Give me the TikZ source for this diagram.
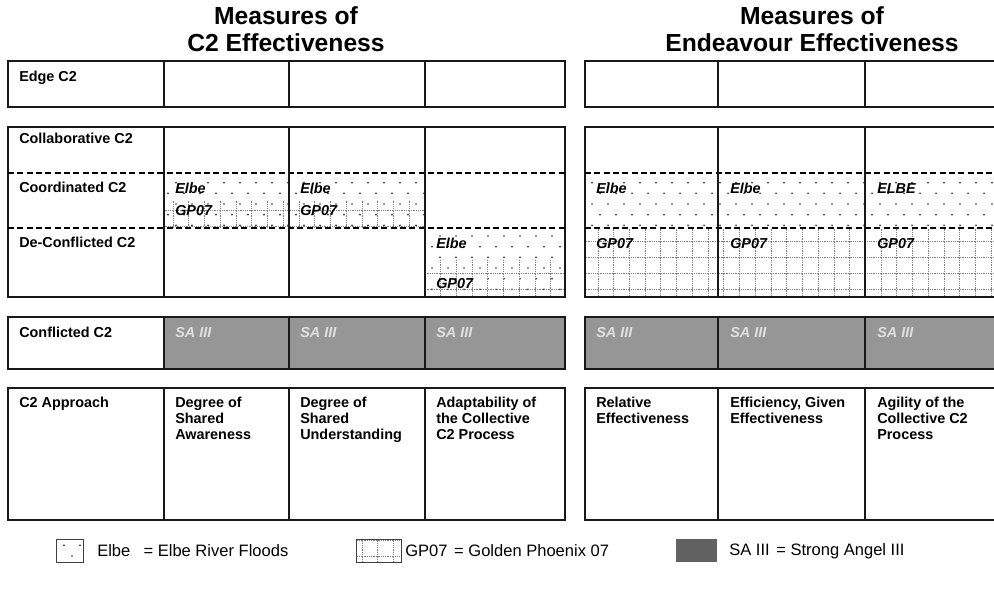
\documentclass[tikz,border=0pt]{standalone}
\usepackage{fontspec}
\setmainfont{Liberation Sans}
\usetikzlibrary{patterns}

% sparse staggered dots (Elbe)
\pgfdeclarepatternformonly{elbedots}{\pgfqpoint{-1pt}{-1pt}}{\pgfqpoint{13pt}{17pt}}{\pgfqpoint{12pt}{16pt}}{
	\pgfpathcircle{\pgfqpoint{0pt}{0pt}}{0.7pt}
	\pgfpathcircle{\pgfqpoint{6pt}{8pt}}{0.7pt}
	\pgfusepath{fill}
}
% dotted grid (GP07)
\pgfdeclarepatternformonly{gpgrid}{\pgfqpoint{-0.5pt}{-0.5pt}}{\pgfqpoint{12.3pt}{12.3pt}}{\pgfqpoint{11.8pt}{11.8pt}}{
	\pgfsetlinewidth{0.55pt}
	\pgfsetdash{{0.55pt}{0.8pt}}{0pt}
	\pgfpathmoveto{\pgfqpoint{0pt}{0pt}}\pgfpathlineto{\pgfqpoint{11.8pt}{0pt}}
	\pgfpathmoveto{\pgfqpoint{0pt}{0pt}}\pgfpathlineto{\pgfqpoint{0pt}{11.8pt}}
	\pgfusepath{stroke}
}

\tikzset{
	frame/.style={draw=black!90, line width=1.1pt},
	divider/.style={draw=black, line width=1.1pt, dash pattern=on 4.5pt off 2.5pt},
	elbefill/.style={pattern=elbedots, pattern color=black!80},
	gpfill/.style={pattern=gpgrid, pattern color=black!50},
	safill/.style={fill=black!41},
	rowlabel/.style={anchor=north west, inner sep=0pt, align=left,
		font=\bfseries\fontsize{10.8}{12}\selectfont},
	tag/.style={anchor=north west, inner sep=0pt,
		font=\bfseries\itshape\fontsize{10.8}{12}\selectfont},
	satag/.style={tag, text=black!12},
	heading/.style={anchor=north, inner sep=0pt, align=center,
		font=\bfseries\fontsize{18.5}{20.5}\selectfont},
	keybox/.style={draw=black!75, line width=0.5pt},
	keytext/.style={anchor=west, inner sep=0pt, font=\fontsize{12.4}{14}\selectfont}
}

\begin{document}
\begin{tikzpicture}[x=0.75pt,y=-0.75pt]
	\clip (0,0) rectangle (994,588);

	\node [heading] (lefttitle) at (286,6) {Measures of\\C2 Effectiveness};
	\node [heading] (righttitle) at (812,6) {Measures of\\Endeavour Effectiveness};

	% fills
	\path [elbefill] (164,173) rectangle (425,228);
	\path [gpfill] (164,200) rectangle (425,228);
	\path [elbefill] (425,228) rectangle (565,297);
	\path [gpfill] (425,260) rectangle (565,297);
	\path [elbefill] (585,173) rectangle (1010,228);
	\path [gpfill] (585,228) rectangle (1010,297);
	\path [safill] (164,317) rectangle (565,369);
	\path [safill] (585,317) rectangle (1010,369);

	% left table
	\draw [frame] (8,61) rectangle (565,107);
	\draw [frame] (8,127) rectangle (565,297);
	\draw [divider] (8,173) -- (565,173);
	\draw [divider] (8,228) -- (565,228);
	\draw [frame] (8,317) rectangle (565,369);
	\draw [frame] (8,388) rectangle (565,520);
	\foreach \x in {164,289,425}
	{
		\draw [frame] (\x,61) -- (\x,107);
		\draw [frame] (\x,127) -- (\x,297);
		\draw [frame] (\x,317) -- (\x,369);
		\draw [frame] (\x,388) -- (\x,520);
	}

	% right table
	\draw [frame] (585,61) rectangle (1010,107);
	\draw [frame] (585,127) rectangle (1010,297);
	\draw [divider] (585,173) -- (1010,173);
	\draw [divider] (585,228) -- (1010,228);
	\draw [frame] (585,317) rectangle (1010,369);
	\draw [frame] (585,388) rectangle (1010,520);
	\foreach \x in {718,865}
	{
		\draw [frame] (\x,61) -- (\x,107);
		\draw [frame] (\x,127) -- (\x,297);
		\draw [frame] (\x,317) -- (\x,369);
		\draw [frame] (\x,388) -- (\x,520);
	}

	% row labels
	\node [rowlabel] (edge) at (19,71) {Edge C2};
	\node [rowlabel] (collab) at (19,133) {Collaborative C2};
	\node [rowlabel] (coord) at (19,182) {Coordinated C2};
	\node [rowlabel] (deconf) at (19,237) {De-Conflicted C2};
	\node [rowlabel] (conf) at (19,327) {Conflicted C2};
	\node [rowlabel] (approach) at (19,397) {C2 Approach};

	% exercise tags
	\node [tag] (elbeA) at (175,183) {Elbe};
	\node [tag] (gpA) at (175,205) {GP07};
	\node [tag] (elbeB) at (300,183) {Elbe};
	\node [tag] (gpB) at (300,205) {GP07};
	\node [tag] (elbeC) at (436,238) {Elbe};
	\node [tag] (gpC) at (436,278) {GP07};
	\node [tag] (elbeD) at (596,183) {Elbe};
	\node [tag] (elbeE) at (730,183) {Elbe};
	\node [tag] (elbeF) at (877,183) {ELBE};
	\node [tag] (gpD) at (596,238) {GP07};
	\node [tag] (gpE) at (730,238) {GP07};
	\node [tag] (gpF) at (877,238) {GP07};
	\node [satag] (saA) at (175,327) {SA III};
	\node [satag] (saB) at (300,327) {SA III};
	\node [satag] (saC) at (436,327) {SA III};
	\node [satag] (saD) at (596,327) {SA III};
	\node [satag] (saE) at (730,327) {SA III};
	\node [satag] (saF) at (877,327) {SA III};

	% measures
	\node [rowlabel] (awareness) at (175,397) {Degree of\\Shared\\Awareness};
	\node [rowlabel] (understanding) at (300,397) {Degree of\\Shared\\Understanding};
	\node [rowlabel] (adaptability) at (436,397) {Adaptability of\\the Collective\\C2 Process};
	\node [rowlabel] (relative) at (596,397) {Relative\\Effectiveness};
	\node [rowlabel] (efficiency) at (730,397) {Efficiency, Given\\Effectiveness};
	\node [rowlabel] (agility) at (877,397) {Agility of the\\Collective C2\\Process};

	% legend
	\draw [keybox, elbefill] (56,539) rectangle (83,562);
	\node [keytext] (elbekey) at (97,551) {Elbe\hspace{0.8em}= Elbe River Floods};
	\draw [keybox, gpfill] (356,539) rectangle (401,562);
	\node [keytext] (gpkey) at (405,551) {GP07\hspace{0.4em}= Golden Phoenix 07};
	\path [fill=black!62] (676,539) rectangle (717,562);
	\node [keytext] (sakey) at (729,551) {SA III\hspace{0.4em}= Strong Angel III};
\end{tikzpicture}
\end{document}
